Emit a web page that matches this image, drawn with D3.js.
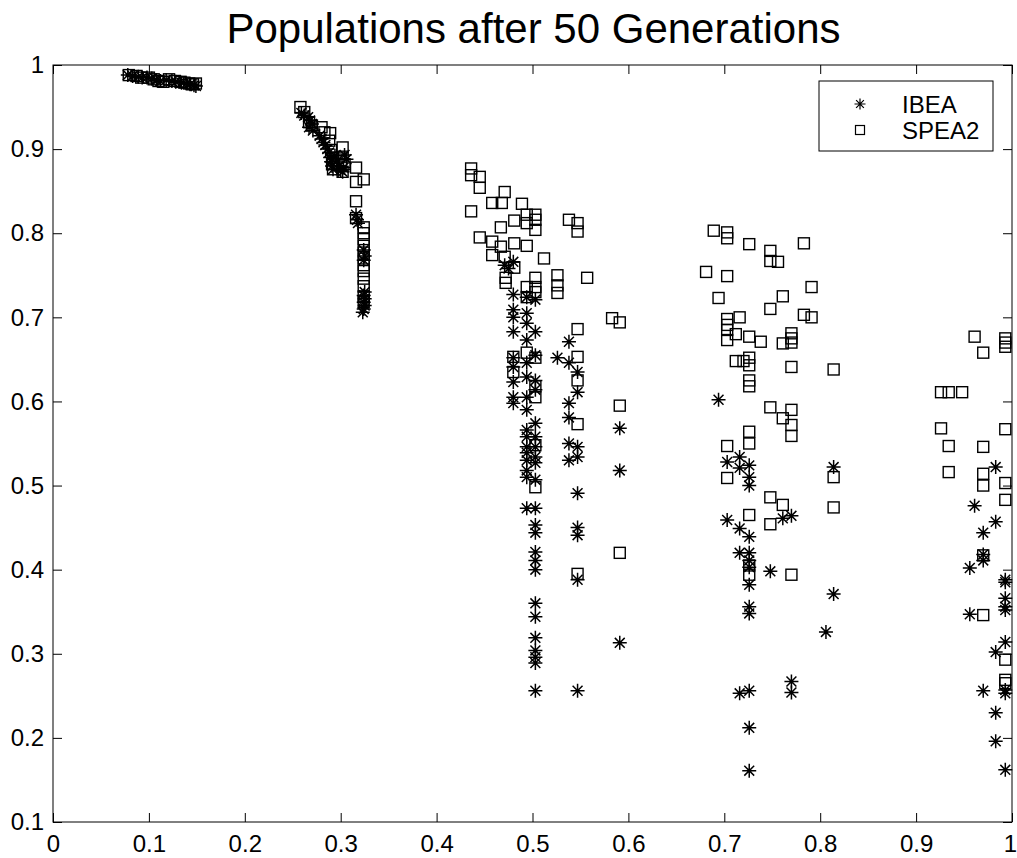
<!DOCTYPE html>
<html>
<head>
<meta charset="utf-8">
<script src="https://cdn.jsdelivr.net/npm/d3@7"></script>
<style>
  html, body { margin: 0; padding: 0; background: #fff; }
  svg { display: block; font-family: "Liberation Sans", Arial, Helvetica, sans-serif; }
</style>
</head>
<body>
<svg id="chart" width="1017" height="858"></svg>
<script>
const titleText = "Populations after 50 Generations";
const xTicks = [0, 0.1, 0.2, 0.3, 0.4, 0.5, 0.6, 0.7, 0.8, 0.9, 1];
const yTicks = [0.1, 0.2, 0.3, 0.4, 0.5, 0.6, 0.7, 0.8, 0.9, 1];
const seriesNames = ["IBEA", "SPEA2"];

const ibeaPoints = [
  [0.078,0.988],[0.083,0.987],[0.089,0.986],[0.093,0.985],[0.098,0.985],[0.103,0.984],[0.108,0.982],[0.112,0.981],
  [0.118,0.982],[0.124,0.981],[0.128,0.980],[0.134,0.979],[0.139,0.978],[0.143,0.977],[0.147,0.976],[0.149,0.975],
  [0.259,0.943],[0.262,0.940],[0.266,0.938],[0.268,0.934],[0.270,0.930],[0.267,0.926],[0.271,0.922],[0.278,0.916],
  [0.280,0.912],[0.282,0.908],[0.284,0.905],[0.286,0.900],[0.288,0.896],[0.289,0.890],[0.290,0.885],[0.291,0.880],
  [0.292,0.876],[0.294,0.892],[0.296,0.886],[0.298,0.880],[0.300,0.875],[0.302,0.873],[0.304,0.893],[0.306,0.888],
  [0.303,0.878],[0.316,0.822],[0.317,0.816],[0.318,0.812],[0.324,0.780],[0.325,0.773],[0.324,0.768],[0.325,0.730],
  [0.324,0.726],[0.325,0.722],[0.324,0.718],[0.325,0.714],[0.324,0.710],[0.323,0.706],
  [0.471,0.762],[0.480,0.766],[0.475,0.758],[0.480,0.727],[0.494,0.724],[0.503,0.721],[0.480,0.709],[0.480,0.700],
  [0.494,0.705],[0.494,0.693],[0.480,0.683],[0.503,0.683],[0.494,0.673],[0.538,0.671],[0.526,0.652],[0.538,0.646],
  [0.547,0.635],[0.480,0.652],[0.494,0.646],[0.503,0.655],[0.480,0.641],[0.480,0.623],[0.494,0.629],[0.503,0.625],
  [0.503,0.614],[0.480,0.605],[0.480,0.598],[0.494,0.605],[0.494,0.590],[0.547,0.611],[0.538,0.598],
  [0.538,0.581],[0.591,0.568],[0.503,0.574],[0.494,0.566],[0.494,0.558],[0.503,0.558],[0.494,0.546],[0.503,0.546],
  [0.494,0.539],[0.503,0.534],[0.494,0.530],[0.503,0.527],[0.494,0.518],[0.494,0.510],[0.503,0.507],[0.538,0.550],
  [0.547,0.546],[0.547,0.534],[0.538,0.530],[0.591,0.518],[0.547,0.491],[0.494,0.473],[0.503,0.473],[0.503,0.453],
  [0.503,0.444],[0.547,0.450],[0.547,0.441],[0.503,0.421],[0.503,0.411],[0.503,0.400],[0.547,0.388],[0.503,0.360],
  [0.503,0.344],[0.503,0.319],[0.503,0.304],[0.503,0.296],[0.503,0.289],[0.591,0.313],[0.503,0.256],[0.547,0.256],
  [0.694,0.602],[0.703,0.528],[0.716,0.534],[0.716,0.521],[0.726,0.524],[0.726,0.510],[0.726,0.500],[0.814,0.522],
  [0.703,0.459],[0.716,0.449],[0.726,0.439],[0.761,0.461],[0.770,0.464],[0.716,0.420],[0.726,0.420],[0.726,0.411],
  [0.726,0.403],[0.748,0.398],[0.726,0.382],[0.814,0.371],[0.726,0.356],[0.726,0.348],[0.806,0.326],[0.770,0.267],
  [0.770,0.254],[0.716,0.253],[0.726,0.256],[0.726,0.212],[0.726,0.161],
  [0.983,0.522],[0.961,0.476],[0.983,0.457],[0.970,0.444],[0.970,0.411],[0.956,0.402],[0.993,0.388],[0.993,0.385],
  [0.993,0.366],[0.993,0.356],[0.993,0.352],[0.956,0.347],[0.993,0.314],[0.983,0.302],[0.970,0.256],[0.993,0.257],
  [0.993,0.253],[0.983,0.230],[0.983,0.196],[0.993,0.162],[0.970,0.418]
];

const spea2Points = [
  [0.079,0.988],[0.087,0.987],[0.092,0.985],[0.100,0.985],[0.105,0.983],[0.110,0.981],[0.115,0.980],[0.121,0.983],
  [0.127,0.981],[0.133,0.980],[0.137,0.979],[0.142,0.978],[0.146,0.977],[0.149,0.978],
  [0.258,0.950],[0.262,0.944],[0.267,0.932],[0.270,0.928],[0.280,0.926],[0.283,0.920],[0.289,0.919],[0.288,0.910],
  [0.290,0.899],[0.292,0.890],[0.291,0.882],[0.292,0.876],[0.302,0.902],[0.302,0.891],[0.304,0.882],[0.302,0.873],
  [0.316,0.878],[0.316,0.861],[0.324,0.864],[0.316,0.838],[0.316,0.818],[0.324,0.807],[0.324,0.800],[0.324,0.793],
  [0.324,0.785],[0.324,0.777],[0.324,0.770],[0.324,0.762],[0.324,0.755],[0.324,0.746],[0.324,0.737],[0.324,0.725],
  [0.324,0.718],
  [0.436,0.877],[0.436,0.869],[0.445,0.867],[0.445,0.854],[0.471,0.849],[0.458,0.836],[0.468,0.836],[0.489,0.835],
  [0.436,0.826],[0.494,0.822],[0.503,0.822],[0.503,0.816],[0.481,0.815],[0.467,0.807],[0.494,0.812],[0.503,0.804],
  [0.538,0.816],[0.547,0.812],[0.547,0.802],[0.445,0.795],[0.458,0.790],[0.467,0.784],[0.481,0.788],[0.494,0.785],
  [0.458,0.774],[0.471,0.772],[0.512,0.770],[0.481,0.759],[0.472,0.747],[0.472,0.741],[0.503,0.747],[0.503,0.736],
  [0.494,0.736],[0.526,0.750],[0.526,0.738],[0.526,0.729],[0.557,0.747],[0.494,0.724],[0.503,0.730],[0.583,0.699],
  [0.591,0.694],[0.547,0.686],[0.547,0.653],[0.494,0.658],[0.480,0.653],[0.503,0.652],[0.480,0.635],[0.547,0.625],
  [0.591,0.595],[0.547,0.573],[0.503,0.605],[0.503,0.618],[0.503,0.548],[0.503,0.498],[0.591,0.420],[0.547,0.395],
  [0.689,0.803],[0.703,0.801],[0.703,0.794],[0.726,0.787],[0.748,0.779],[0.748,0.767],[0.756,0.766],[0.783,0.788],
  [0.681,0.754],[0.703,0.749],[0.791,0.736],[0.694,0.723],[0.761,0.725],[0.748,0.710],[0.783,0.703],[0.791,0.700],
  [0.703,0.698],[0.716,0.700],[0.703,0.691],[0.703,0.685],[0.703,0.673],[0.712,0.680],[0.726,0.677],[0.738,0.671],
  [0.761,0.669],[0.770,0.681],[0.770,0.675],[0.770,0.670],[0.712,0.648],[0.720,0.648],[0.726,0.652],[0.726,0.643],
  [0.770,0.641],[0.814,0.638],[0.726,0.625],[0.726,0.618],[0.748,0.593],[0.761,0.580],[0.770,0.590],[0.770,0.572],
  [0.770,0.559],[0.726,0.564],[0.726,0.550],[0.703,0.547],[0.703,0.509],[0.814,0.510],[0.748,0.486],[0.761,0.477],
  [0.814,0.474],[0.726,0.465],[0.748,0.454],[0.726,0.394],[0.770,0.394],[0.726,0.405],
  [0.961,0.677],[0.970,0.658],[0.993,0.675],[0.993,0.670],[0.993,0.665],[0.926,0.611],[0.934,0.611],[0.948,0.611],
  [0.926,0.568],[0.934,0.547],[0.970,0.546],[0.993,0.567],[0.934,0.516],[0.970,0.514],[0.970,0.500],[0.993,0.503],
  [0.993,0.483],[0.970,0.417],[0.970,0.346],[0.993,0.293],[0.993,0.269],[0.993,0.265]
];

const svg = d3.select("#chart");
const plot = { left: 53, right: 1012, top: 65, bottom: 822 };

const x = d3.scaleLinear().domain([0, 1]).range([plot.left, plot.right]);
const y = d3.scaleLinear().domain([0.1, 1]).range([plot.bottom, plot.top]);

// Title
svg.append("text")
  .attr("x", (plot.left + plot.right) / 2 + 1)
  .attr("y", 43)
  .attr("text-anchor", "middle")
  .attr("font-size", 42)
  .attr("fill", "#000")
  .text(titleText);

// markers
const starPath = (s) => {
  const r = s / 2, d = r * 0.7071;
  return `M${-r},0L${r},0M0,${-r}L0,${r}M${-d},${-d}L${d},${d}M${-d},${d}L${d},${-d}`;
};
const starD = starPath(14);
const sq = 11;

const pts = svg.append("g");
pts.selectAll("path.ibea").data(ibeaPoints).enter().append("path")
  .attr("class", "ibea")
  .attr("transform", d => `translate(${x(d[0])},${y(d[1])})`)
  .attr("d", starD)
  .attr("fill", "none").attr("stroke", "#000").attr("stroke-width", 1.5);

pts.selectAll("rect.spea").data(spea2Points).enter().append("rect")
  .attr("class", "spea")
  .attr("x", d => x(d[0]) - sq / 2)
  .attr("y", d => y(d[1]) - sq / 2)
  .attr("width", sq).attr("height", sq)
  .attr("fill", "none").attr("stroke", "#000").attr("stroke-width", 1.4);

// Axes with inward ticks on all four sides
const tickLen = 9;
const axFont = 24;
const gB = svg.append("g").attr("transform", `translate(0,${plot.bottom})`)
  .call(d3.axisBottom(x).tickValues(xTicks).tickSize(-tickLen).tickSizeOuter(0).tickPadding(13)
    .tickFormat(d => d3.format("")(d)));
const gT = svg.append("g").attr("transform", `translate(0,${plot.top})`)
  .call(d3.axisTop(x).tickValues(xTicks).tickSize(-tickLen).tickSizeOuter(0).tickFormat(""));
const gL = svg.append("g").attr("transform", `translate(${plot.left},0)`)
  .call(d3.axisLeft(y).tickValues(yTicks).tickSize(-tickLen).tickSizeOuter(0).tickPadding(9)
    .tickFormat(d => d3.format("")(d)));
const gR = svg.append("g").attr("transform", `translate(${plot.right},0)`)
  .call(d3.axisRight(y).tickValues(yTicks).tickSize(-tickLen).tickSizeOuter(0).tickFormat(""));

[gB, gT, gL, gR].forEach(g => {
  g.select(".domain").remove();
  g.selectAll(".tick line").attr("stroke", "#000").attr("stroke-width", 1);
  g.selectAll(".tick text").attr("font-size", axFont).attr("fill", "#000")
    .attr("font-family", "Liberation Sans, Arial, sans-serif");
});
// keep the last x label inside the page edge
gB.selectAll(".tick text").filter(d => d === 1).attr("dx", -2);

// plot box
svg.append("rect")
  .attr("x", plot.left).attr("y", plot.top)
  .attr("width", plot.right - plot.left).attr("height", plot.bottom - plot.top)
  .attr("fill", "none").attr("stroke", "#000").attr("stroke-width", 1);

// Legend
const lg = svg.append("g");
lg.append("rect").attr("x", 819).attr("y", 81).attr("width", 174).attr("height", 70)
  .attr("fill", "#fff").attr("stroke", "#000").attr("stroke-width", 1);
const legendRows = [104, 130];
lg.append("path").attr("transform", `translate(860,${legendRows[0]})`)
  .attr("d", starPath(11)).attr("fill", "none").attr("stroke", "#000").attr("stroke-width", 1.2);
lg.append("rect").attr("x", 860 - 4.5).attr("y", legendRows[1] - 4.5).attr("width", 9).attr("height", 9)
  .attr("fill", "none").attr("stroke", "#000").attr("stroke-width", 1.2);
seriesNames.forEach((n, i) => {
  lg.append("text").attr("x", 902).attr("y", legendRows[i]).attr("dy", "0.36em")
    .attr("font-size", 24).attr("fill", "#000").text(n);
});
</script>
</body>
</html>
